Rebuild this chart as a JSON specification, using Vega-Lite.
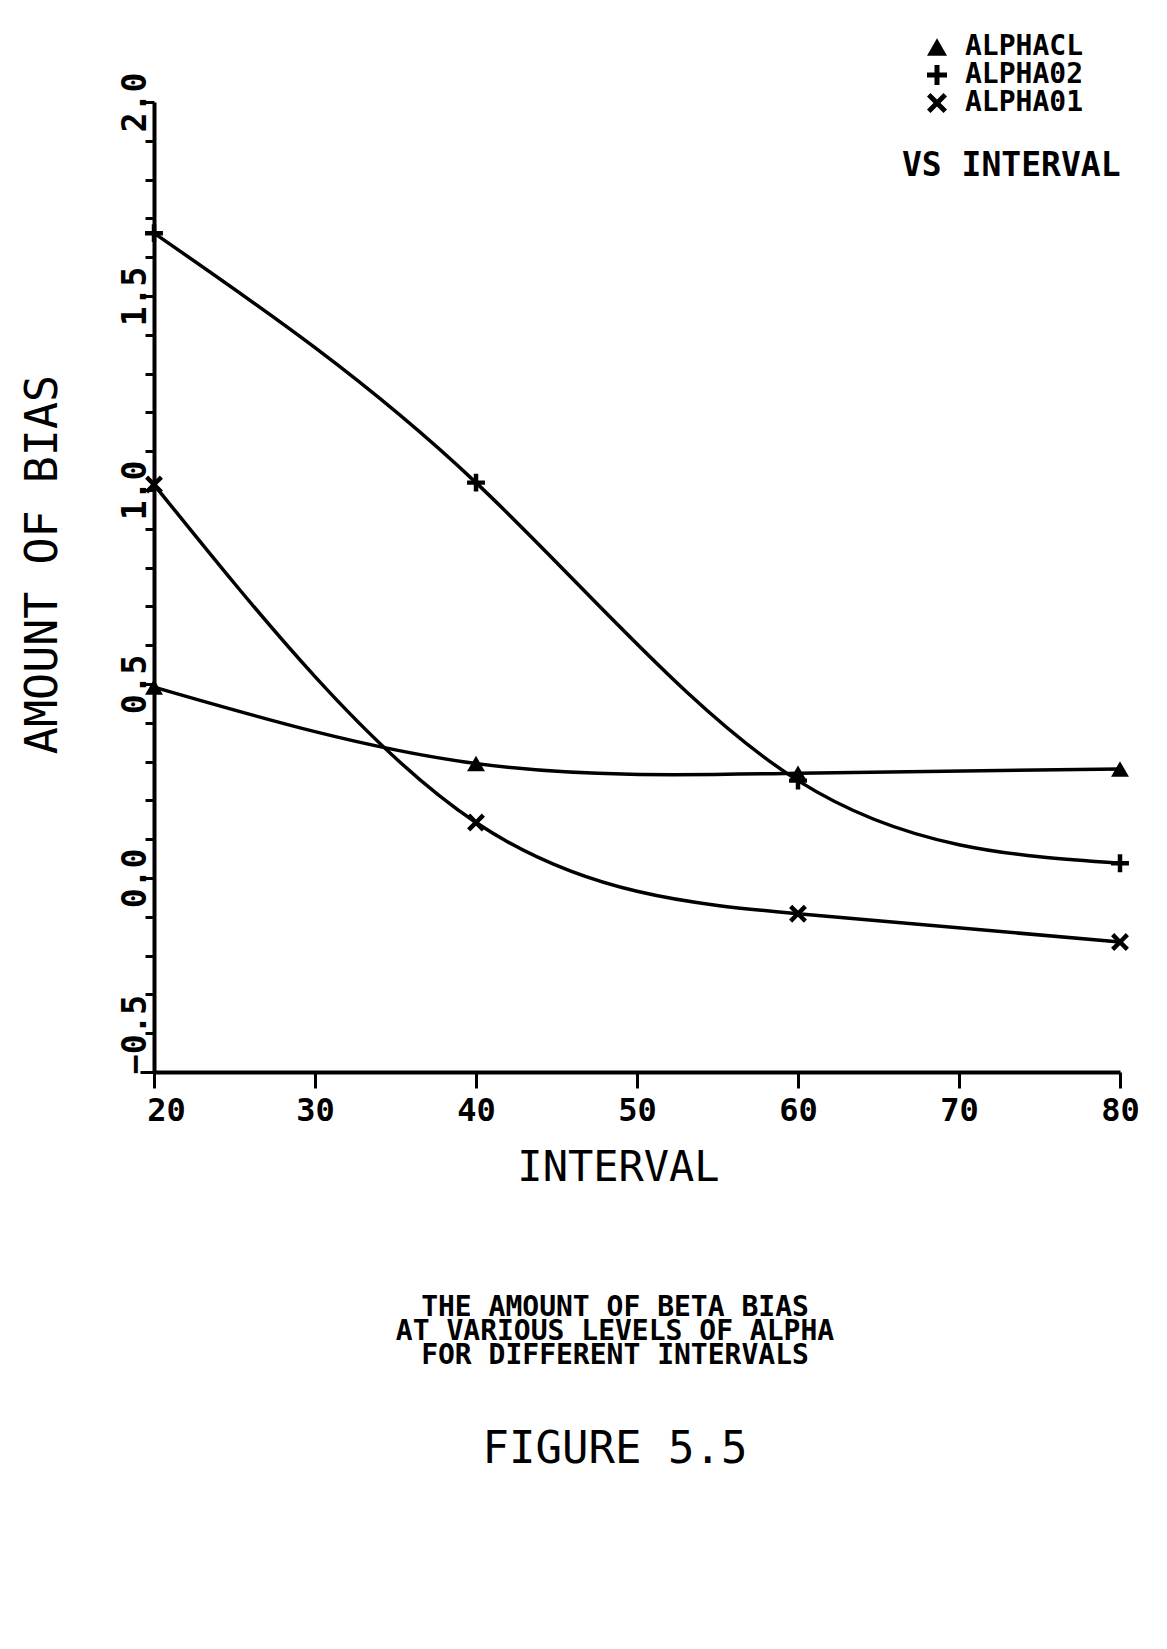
{
  "$schema": "https://vega.github.io/schema/vega-lite/v6.json",
  "width": 966,
  "height": 970,
  "autosize": {"type": "none"},
  "padding": {"left": 154, "top": 102, "right": 47, "bottom": 577},
  "background": "white",
  "config": {
    "view": {"stroke": null},
    "font": "DejaVu Sans Mono",
    "axis": {"grid": false, "domainColor": "black", "tickColor": "black", "labelColor": "black", "titleColor": "black"}
  },
  "title": {
    "text": ["THE AMOUNT OF BETA BIAS", "AT VARIOUS LEVELS OF ALPHA", "FOR DIFFERENT INTERVALS"],
    "subtitle": "FIGURE 5.5",
    "orient": "bottom",
    "anchor": "middle",
    "frame": "group",
    "dx": -22,
    "offset": 106,
    "font": "DejaVu Sans Mono",
    "fontSize": 28,
    "fontWeight": "bold",
    "lineHeight": 24,
    "color": "black",
    "subtitleFont": "DejaVu Sans Mono",
    "subtitleFontSize": 44,
    "subtitleFontWeight": "normal",
    "subtitleColor": "black",
    "subtitlePadding": 58
  },
  "data": {
    "values": [
      {"interval": 20, "bias": 0.492, "series": "ALPHACL"},
      {"interval": 40, "bias": 0.295, "series": "ALPHACL"},
      {"interval": 60, "bias": 0.270, "series": "ALPHACL"},
      {"interval": 80, "bias": 0.281, "series": "ALPHACL"},
      {"interval": 20, "bias": 1.662, "series": "ALPHA02"},
      {"interval": 40, "bias": 1.019, "series": "ALPHA02"},
      {"interval": 60, "bias": 0.251, "series": "ALPHA02"},
      {"interval": 80, "bias": 0.038, "series": "ALPHA02"},
      {"interval": 20, "bias": 1.014, "series": "ALPHA01"},
      {"interval": 40, "bias": 0.143, "series": "ALPHA01"},
      {"interval": 60, "bias": -0.092, "series": "ALPHA01"},
      {"interval": 80, "bias": -0.165, "series": "ALPHA01"}
    ]
  },
  "encoding": {
    "x": {
      "field": "interval",
      "type": "quantitative",
      "scale": {"domain": [20, 80], "nice": false, "zero": false},
      "axis": {
        "title": "INTERVAL",
        "values": [20, 30, 40, 50, 60, 70, 80],
        "format": "d",
        "domainWidth": 4,
        "tickWidth": 3,
        "tickSize": 16,
        "labelFont": "DejaVu Sans Mono",
        "labelFontWeight": "bold",
        "labelFontSize": 32,
        "labelPadding": 7,
        "labelOffset": {"condition": {"test": "datum.value == 20", "value": 12}, "value": 0},
        "labelFlush": false,
        "titleFont": "DejaVu Sans Mono",
        "titleFontSize": 42,
        "titleFontWeight": "normal",
        "titlePadding": 21,
        "titleX": 464
      }
    },
    "y": {
      "field": "bias",
      "type": "quantitative",
      "scale": {"domain": [-0.5, 2.0], "nice": false, "zero": false},
      "axis": {
        "title": "AMOUNT OF BIAS",
        "values": [-0.5, -0.4, -0.3, -0.2, -0.1, 0, 0.1, 0.2, 0.3, 0.4, 0.5, 0.6, 0.7, 0.8, 0.9, 1.0, 1.1, 1.2, 1.3, 1.4, 1.5, 1.6, 1.7, 1.8, 1.9, 2.0],
        "labelExpr": "abs(datum.value * 2 - round(datum.value * 2)) < 0.001 ? format(datum.value, '.1f') : ''",
        "domainWidth": 4,
        "tickWidth": 3,
        "tickSize": {"condition": {"test": "abs(datum.value * 2 - round(datum.value * 2)) < 0.001", "value": 14}, "value": 9},
        "labelAngle": -90,
        "labelFont": "DejaVu Sans Mono",
        "labelFontWeight": "bold",
        "labelFontSize": 33,
        "labelPadding": -12,
        "labelOffset": {"condition": {"test": "datum.value == -0.5", "value": -38}, "value": 0},
        "labelFlush": false,
        "labelOverlap": false,
        "titleFont": "DejaVu Sans Mono",
        "titleFontSize": 45,
        "titleFontWeight": "normal",
        "titleAngle": -90,
        "titleAlign": "center",
        "titleBaseline": "middle",
        "titleX": -112,
        "titleY": 462
      }
    }
  },
  "layer": [
    {
      "mark": {"type": "line", "interpolate": "natural", "color": "black", "strokeWidth": 3.5},
      "encoding": {"detail": {"field": "series"}}
    },
    {
      "mark": {"type": "point", "filled": true, "color": "black", "opacity": 1, "strokeWidth": 0, "size": 320},
      "encoding": {
        "shape": {
          "field": "series",
          "type": "nominal",
          "scale": {
            "domain": ["ALPHACL", "ALPHA02", "ALPHA01"],
            "range": [
              "triangle-up",
              "M-1,-0.25H-0.25V-1H0.25V-0.25H1V0.25H0.25V1H-0.25V0.25H-1Z",
              "M-0.65,-1L0,-0.35L0.65,-1L1,-0.65L0.35,0L1,0.65L0.65,1L0,0.35L-0.65,1L-1,0.65L-0.35,0L-1,-0.65Z"
            ]
          },
          "legend": {
            "orient": "none",
            "legendX": 748,
            "legendY": -69,
            "title": "VS INTERVAL",
            "titleOrient": "bottom",
            "titleFont": "DejaVu Sans Mono",
            "titleFontSize": 33,
            "titleFontWeight": "bold",
            "titleColor": "black",
            "titleLimit": 400,
            "titlePadding": 33,
            "labelFont": "DejaVu Sans Mono",
            "labelFontSize": 28,
            "labelFontWeight": "bold",
            "labelColor": "black",
            "labelOffset": 14,
            "symbolOffset": 21,
            "symbolSize": 400,
            "symbolStrokeWidth": 0,
            "symbolFillColor": "black",
            "rowPadding": 0,
            "padding": 0,
            "encode": {
              "symbols": {
                "update": {
                  "fill": {"value": "black"},
                  "opacity": {"value": 1}
                }
              }
            }
          }
        }
      }
    }
  ]
}
